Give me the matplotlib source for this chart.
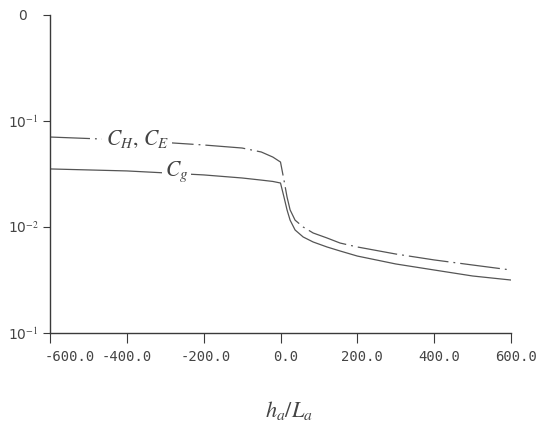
import matplotlib
matplotlib.use("Agg")
import matplotlib.pyplot as plt
import matplotlib.transforms as mtransforms

plt.rcParams['mathtext.fontset'] = 'stix'

# Data
x_vals = [-600, -400, -200, -100, -50, -20, 0, 9, 17, 25, 38, 59, 85, 121, 155,
          200, 300, 400, 500, 600]
c_h = [0.0706, 0.0662, 0.0594, 0.0556, 0.0510, 0.0457, 0.0410, 0.0277, 0.0192,
       0.0145, 0.0116, 0.0100, 0.00878, 0.00788, 0.00706,
       0.00648, 0.00556, 0.00489, 0.00438, 0.00393]
c_g = [0.0353, 0.0338, 0.0310, 0.0290, 0.0277, 0.0269, 0.0260, 0.0192, 0.0145,
       0.0116, 0.00937, 0.00805, 0.00722, 0.00648, 0.00594,
       0.00532, 0.00448, 0.00393, 0.00345, 0.00316]

x_ticks = [-600, -400, -200, 0, 200, 400, 600]
x_ticklabels = ["-600.0", "-400.0", "-200.0", "0.0", "200.0", "400.0", "600.0"]
y_ticks = [1e-3, 1e-2, 1e-1, 1.0]
y_ticklabels = [r"10$^{-1}$", r"10$^{-2}$", r"10$^{-1}$", "0"]

line_col = "#555555"
axis_col = "#3a3a3a"
text_col = "#444444"

fig = plt.figure(figsize=(5.39, 4.28), dpi=100)
ax = fig.add_axes([50/539, 1-333/428, (511-50)/539, (333-15)/428])

ax.plot(x_vals, c_h, color=line_col, lw=0.9, dashes=(32, 4, 1.5, 4))
ax.plot(x_vals, c_g, color=line_col, lw=0.9)

ax.set_yscale('log')
ax.set_xlim(-600, 600)
ax.set_ylim(1e-3, 1.0)
ax.set_xticks(x_ticks)
ax.set_xticklabels(x_ticklabels)
ax.set_yticks(y_ticks)
ax.set_yticklabels(y_ticklabels)
ax.minorticks_off()
ax.yaxis.set_minor_locator(matplotlib.ticker.NullLocator())

for s in ['top', 'right']:
    ax.spines[s].set_visible(False)
for s in ['left', 'bottom']:
    ax.spines[s].set_color(axis_col)
    ax.spines[s].set_linewidth(1.0)

ax.tick_params(axis='x', direction='out', length=7, width=0.8, colors=axis_col,
               labelcolor=text_col, pad=5)
ax.tick_params(axis='y', direction='out', length=5, width=0.8, colors=axis_col,
               labelcolor=text_col, pad=3)
for lab in ax.get_xticklabels():
    lab.set_fontfamily('DejaVu Sans Mono')
    lab.set_fontsize(10)
for lab in ax.get_yticklabels():
    lab.set_fontfamily('DejaVu Sans')
    lab.set_fontsize(10)

# shift individual tick labels as in the reference
px = 72 / 100
xlabs = ax.get_xticklabels()
shifts = [20, 0, 2, 5, 5, 5, 5]
for lab, dx in zip(xlabs, shifts):
    lab.set_transform(lab.get_transform() +
                      mtransforms.ScaledTranslation(dx * px / 72, 0, fig.dpi_scale_trans))
top_lab = ax.get_yticklabels()[-1]
top_lab.set_transform(top_lab.get_transform() +
                      mtransforms.ScaledTranslation(-12 * px / 72, 0, fig.dpi_scale_trans))

# inline curve labels
ax.text(-455, 0.0665, r"$C_H,\,C_E$", fontsize=15.5, color=text_col,
        ha='left', va='center',
        bbox=dict(facecolor='white', edgecolor='none', pad=2.5))
ax.text(-300, 0.0335, r"$C_g$", fontsize=15.5, color=text_col,
        ha='left', va='center',
        bbox=dict(facecolor='white', edgecolor='none', pad=2.0))

fig.text(289/539, 1-410/428, r"$h_a/L_a$", fontsize=16, color=text_col,
         ha='center', va='center')

fig.savefig("out.png", dpi=100, facecolor='white')
